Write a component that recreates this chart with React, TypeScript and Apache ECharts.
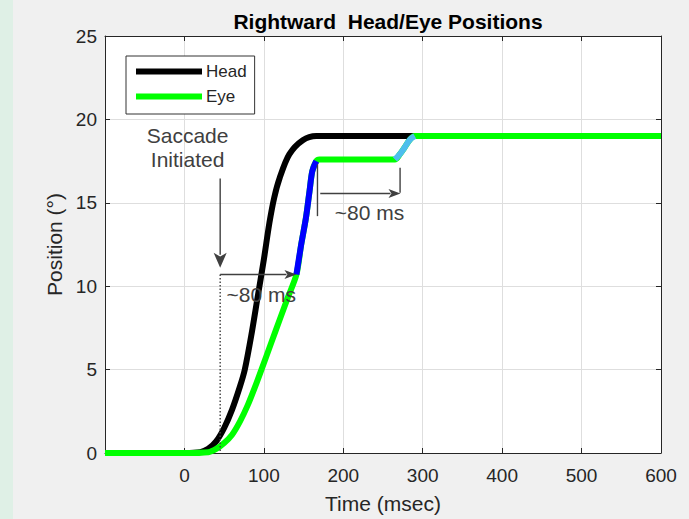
import React, { useEffect, useRef } from "react";
import * as echarts from "echarts";

// Time axis (msec) and position axis (deg)
const xTicks = [-100, 0, 100, 200, 300, 400, 500, 600];
const yTicks = [0, 5, 10, 15, 20, 25];

// Head trajectory: [time ms, position deg]
const headPos: [number, number][] = [
  [-100, 0], [0, 0], [20, 0.05], [30, 0.25], [40, 0.7], [50, 1.5], [60, 2.6],
  [70, 4.0], [76, 5.0], [84, 7.0], [92, 9.3], [100, 11.6], [107, 13.8],
  [113, 15.3], [120, 16.5], [132, 17.9], [149, 18.75], [166, 19.0], [290, 19.0],
];

// Eye trajectory: [time ms, position deg]
const eyePos: [number, number][] = [
  [-100, 0], [0, 0], [30, 0.05], [40, 0.25], [50, 0.6], [60, 1.1], [70, 1.9],
  [80, 2.9], [90, 4.1], [97, 5.0], [110, 6.7], [120, 8.0], [130, 9.3],
  [141, 10.7], [147, 12.5], [153, 14.1], [157.5, 15.7], [161, 16.9],
  [166, 17.5], [170, 17.6], [265, 17.6], [271, 17.9], [277, 18.3],
  [284, 18.8], [290, 19.0], [600, 19.0],
];

// Saccade portion of the eye trace
const saccadePos: [number, number][] = [
  [141, 10.7], [147, 12.5], [153, 14.1], [157.5, 15.7], [161, 16.9], [166, 17.5],
];

// Corrective catch-up portion of the eye trace
const catchUpPos: [number, number][] = [
  [265, 17.6], [271, 17.9], [277, 18.3], [284, 18.8], [290, 19.0],
];

// Annotation geometry in data units
const onsetArrow: [number, number][] = [[45, 16.45], [45, 11.1]];
const onsetGuide: [number, number][] = [[45, 10.7], [45, 0]];
const latencyArrow1: [number, number][] = [[45, 10.7], [141, 10.7]];
const latencyTick2a: [number, number][] = [[167.5, 17.3], [167.5, 14.2]];
const latencyArrow2: [number, number][] = [[171, 15.56], [272, 15.56]];
const latencyTick2b: [number, number][] = [[271.5, 17.1], [271.5, 15.6]];
const annotationTexts: { text: string; at: [number, number] }[] = [
  { text: "Saccade", at: [4, 19.05] },
  { text: "Initiated", at: [4, 17.6] },
  { text: "~80 ms", at: [96.6, 9.5] },
  { text: "~80 ms", at: [233, 14.4] },
];

const FONT = "'Liberation Sans', Arial, Helvetica, sans-serif";
const INK = "#262626";
const ANNO = "#404040";

export default function App() {
  const ref = useRef<HTMLDivElement>(null);

  useEffect(() => {
    if (!ref.current) return;
    const chart = echarts.init(ref.current, undefined, { renderer: "svg" });

    const lineSeries = (name: string, data: [number, number][], color: string) => ({
      name,
      type: "line",
      data,
      symbol: "none",
      showSymbol: false,
      smooth: 0.3,
      lineStyle: { width: 6, color, cap: "butt", join: "round" },
      itemStyle: { color },
      emphasis: { disabled: true },
      silent: true,
    });

    const axisCommon = {
      type: "value",
      axisLine: { show: true, onZero: false, lineStyle: { color: INK, width: 1 } },
      axisTick: { show: true, inside: true, length: 5, lineStyle: { color: INK } },
    };

    chart.setOption({
      animation: false,
      backgroundColor: "transparent",
      title: {
        text: "Rightward  Head/Eye Positions",
        left: 383,
        top: 6,
        textAlign: "center",
        textStyle: { fontFamily: FONT, fontSize: 21, fontWeight: "bold", color: "#000" },
      },
      legend: {
        data: [
          { name: "Head", icon: "rect" },
          { name: "Eye", icon: "rect" },
        ],
        orient: "vertical",
        left: 126,
        top: 56,
        padding: [7, 8, 9, 10],
        itemWidth: 66,
        itemHeight: 6,
        itemGap: 8,
        backgroundColor: "#fff",
        borderColor: "#333",
        borderWidth: 1,
        borderRadius: 0,
        selectedMode: false,
        textStyle: { fontFamily: FONT, fontSize: 17, color: INK, padding: [0, 0, 0, -1] },
      },
      grid: {
        left: 105,
        top: 36,
        width: 556,
        height: 420,
        show: true,
        backgroundColor: "#fff",
        borderWidth: 0,
      },
      xAxis: [
        {
          ...axisCommon,
          position: "bottom",
          min: xTicks[0],
          max: xTicks[xTicks.length - 1],
          interval: 100,
          name: "Time (msec)",
          nameLocation: "middle",
          nameGap: 40,
          nameTextStyle: { fontFamily: FONT, fontSize: 21, color: INK },
          axisLabel: {
            showMinLabel: false,
            margin: 13,
            fontFamily: FONT,
            fontSize: 19,
            color: INK,
          },
          splitLine: { show: true, lineStyle: { color: "#dedede", width: 1 } },
        },
        {
          ...axisCommon,
          position: "top",
          min: xTicks[0],
          max: xTicks[xTicks.length - 1],
          interval: 100,
          axisLabel: { show: false },
          splitLine: { show: false },
        },
      ],
      yAxis: [
        {
          ...axisCommon,
          position: "left",
          min: yTicks[0],
          max: yTicks[yTicks.length - 1],
          interval: 5,
          name: "Position (°)",
          nameLocation: "middle",
          nameGap: 34,
          nameTextStyle: { fontFamily: FONT, fontSize: 21, color: INK },
          axisLabel: { margin: 8, fontFamily: FONT, fontSize: 19, color: INK, padding: [3, 0, 0, 0] },
          splitLine: { show: true, lineStyle: { color: "#dedede", width: 1 } },
        },
        {
          ...axisCommon,
          position: "right",
          min: yTicks[0],
          max: yTicks[yTicks.length - 1],
          interval: 5,
          axisLabel: { show: false },
          splitLine: { show: false },
        },
      ],
      series: [
        lineSeries("Head", headPos, "#000000"),
        lineSeries("Eye", eyePos, "#00ff00"),
        lineSeries("Saccade", saccadePos, "#0000ff"),
        lineSeries("Catch-up", catchUpPos, "#4dbeee"),
      ],
    });

    // Annotations placed from data coordinates
    const px = (p: [number, number]) =>
      chart.convertToPixel({ gridIndex: 0 }, p) as number[];

    const seg = (pts: [number, number][], dash?: number[]) => {
      const a = px(pts[0]);
      const b = px(pts[1]);
      return {
        type: "line",
        silent: true,
        z: 50,
        shape: { x1: a[0], y1: a[1], x2: b[0], y2: b[1] },
        style: { stroke: ANNO, lineWidth: 1.4, lineDash: dash },
      };
    };

    const arrow = (pts: [number, number][], len: number, half: number) => {
      const a = px(pts[0]);
      const b = px(pts[1]);
      const dx = b[0] - a[0];
      const dy = b[1] - a[1];
      const d = Math.hypot(dx, dy) || 1;
      const ux = dx / d;
      const uy = dy / d;
      const bx = b[0] - ux * len;
      const by = b[1] - uy * len;
      const nx = -uy;
      const ny = ux;
      return [
        {
          type: "line",
          silent: true,
          z: 50,
          shape: { x1: a[0], y1: a[1], x2: bx + ux * 2, y2: by + uy * 2 },
          style: { stroke: ANNO, lineWidth: 1.4 },
        },
        {
          type: "polygon",
          silent: true,
          z: 50,
          shape: {
            points: [
              [b[0], b[1]],
              [bx + nx * half, by + ny * half],
              [bx + ux * len * 0.25, by + uy * len * 0.25],
              [bx - nx * half, by - ny * half],
            ],
          },
          style: { fill: ANNO },
        },
      ];
    };

    const texts = annotationTexts.map((t) => {
      const p = px(t.at);
      return {
        type: "text",
        silent: true,
        z: 40,
        x: p[0],
        y: p[1],
        style: {
          text: t.text,
          fontFamily: FONT,
          fontSize: 21,
          fill: ANNO,
          align: "center",
          verticalAlign: "middle",
        },
      };
    });

    chart.setOption({
      graphic: [
        ...texts,
        seg(onsetGuide, [1.5, 2]),
        ...arrow(onsetArrow, 15, 6.5),
        ...arrow(latencyArrow1, 12, 4.5),
        seg(latencyTick2a),
        ...arrow(latencyArrow2, 12, 4.5),
        seg(latencyTick2b),
      ],
    });

    return () => chart.dispose();
  }, []);

  return (
    <div
      style={{
        position: "fixed",
        left: 0,
        top: 0,
        width: 689,
        height: 519,
        background: "linear-gradient(to right, #dff0e6 0px, #dff0e6 13px, #f0f0f0 13px)",
      }}
    >
      <div ref={ref} style={{ width: 689, height: 519 }} />
    </div>
  );
}
